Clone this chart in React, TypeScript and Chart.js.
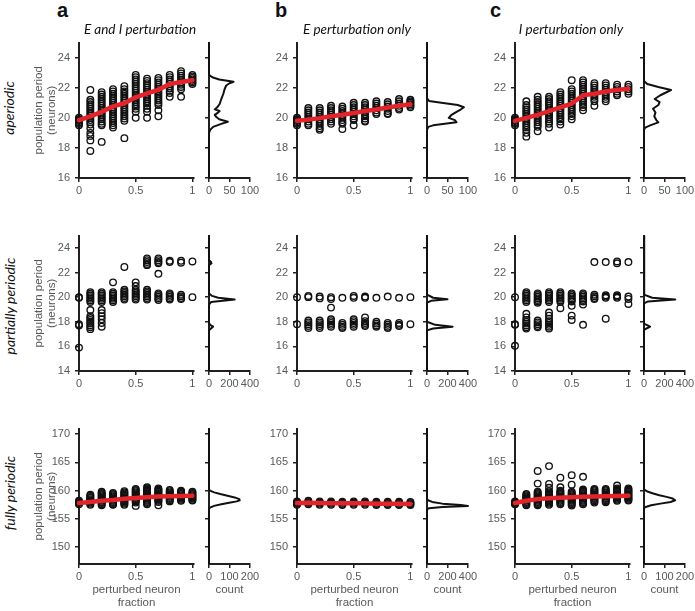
import React, { useEffect, useRef } from 'react';
import { Chart, registerables } from 'chart.js';
Chart.register(...registerables);

// ---------- data ----------
const FRACTIONS = [0, 0.1, 0.2, 0.3, 0.4, 0.5, 0.6, 0.7, 0.8, 0.9, 1];
const FRACTION_TICKS = [0, 0.5, 1];
const ROW1_Y_TICKS = [16, 18, 20, 22, 24];
const ROW2_Y_TICKS = [14, 16, 18, 20, 22, 24];
const ROW3_Y_TICKS = [150, 155, 160, 165, 170];
const HIST_TICKS_100 = [0, 50, 100];
const HIST_TICKS_200 = [0, 100, 200];
const HIST_TICKS_400 = [0, 200, 400];

const COLUMN_TITLES = ['E and I perturbation', 'E perturbation only', 'I perturbation only'];
const COLUMN_LETTERS = ['a', 'b', 'c'];
const ROW_LABELS = ['aperiodic', 'partially periodic', 'fully periodic'];

// row 1: aperiodic
const A1_POINTS = [
  [20.0, 19.9, 19.8, 19.7, 19.6, 19.5],
  [21.85, 21.2, 21.05, 20.9, 20.75, 20.6, 20.45, 20.3, 20.15, 20.0, 19.85, 19.7, 19.55, 19.3, 19.0, 18.8, 18.5, 17.8],
  [21.7, 21.55, 21.4, 21.25, 21.1, 20.95, 20.8, 20.65, 20.5, 20.35, 20.2, 20.05, 19.9, 19.75, 19.6, 19.5, 18.4],
  [21.9, 21.75, 21.6, 21.45, 21.3, 21.15, 21.0, 20.85, 20.7, 20.55, 20.4, 20.25, 20.1, 19.95, 19.8, 19.65, 19.5, 19.35],
  [22.1, 21.9, 21.75, 21.6, 21.45, 21.3, 21.15, 21.0, 20.85, 20.7, 20.55, 20.4, 20.25, 20.1, 19.95, 19.8, 18.65],
  [22.85, 22.7, 22.55, 22.4, 22.25, 22.1, 21.95, 21.8, 21.65, 21.5, 21.35, 21.2, 21.05, 20.9, 20.75, 20.6, 20.4, 20.0],
  [22.6, 22.45, 22.3, 22.15, 22.0, 21.85, 21.7, 21.55, 21.4, 21.25, 21.1, 20.95, 20.8, 20.6, 20.4, 20.0],
  [22.65, 22.5, 22.35, 22.2, 22.05, 21.9, 21.75, 21.6, 21.45, 21.3, 21.15, 21.0, 20.85, 20.5, 20.1],
  [22.85, 22.7, 22.55, 22.4, 22.25, 22.1, 21.95, 21.8, 21.65, 21.4],
  [23.1, 22.95, 22.8, 22.65, 22.5, 22.35, 22.2, 22.05, 21.9, 21.4],
  [22.85, 22.75, 22.65, 22.55, 22.45, 22.35, 22.25],
];
const A1_MEAN = [19.85, 20.1, 20.4, 20.76, 20.97, 21.36, 21.62, 21.86, 22.25, 22.38, 22.5];
const A1_HIST_PERIOD = [16, 19.0, 19.2, 19.4, 19.6, 19.74, 19.9, 20.05, 20.2, 20.35, 20.45, 20.56, 20.7, 20.92, 21.25, 21.6, 21.9, 22.15, 22.3, 22.4, 22.55, 22.7, 22.85, 25];
const A1_HIST_COUNT = [0, 0, 3, 10, 30, 46, 25, 18, 14, 22, 26, 14, 20, 26, 30, 35, 38, 42, 50, 60, 25, 8, 0, 0];

const B1_POINTS = [
  [20.0, 19.9, 19.8, 19.7, 19.6, 19.5],
  [20.65, 20.5, 20.35, 20.2, 20.05, 19.9, 19.75, 19.6, 19.5],
  [20.65, 20.5, 20.35, 20.2, 20.05, 19.9, 19.75, 19.6, 19.45, 19.3, 19.2],
  [20.8, 20.65, 20.5, 20.35, 20.2, 20.05, 19.9, 19.75, 19.6],
  [20.75, 20.6, 20.45, 20.3, 20.15, 20.0, 19.85, 19.7, 19.6, 19.25],
  [21.0, 20.85, 20.7, 20.55, 20.4, 20.25, 20.1, 19.95, 19.85, 19.5],
  [21.0, 20.85, 20.7, 20.55, 20.4, 20.25, 20.1, 19.95, 19.8, 19.75],
  [21.1, 20.95, 20.8, 20.65, 20.5, 20.35, 20.25],
  [21.05, 20.9, 20.75, 20.6, 20.45, 20.3, 20.25],
  [21.25, 21.1, 20.95, 20.8, 20.65, 20.55],
  [21.2, 21.1, 21.0, 20.9, 20.8, 20.7],
];
const B1_MEAN = [19.8, 19.88, 19.98, 20.1, 20.2, 20.32, 20.45, 20.55, 20.68, 20.8, 20.9];
const B1_HIST_PERIOD = [16, 19.2, 19.4, 19.5, 19.7, 19.85, 20.0, 20.2, 20.4, 20.55, 20.7, 20.85, 21.0, 21.12, 21.3, 25];
const B1_HIST_COUNT = [0, 0, 3, 15, 72, 68, 53, 60, 72, 82, 90, 75, 35, 5, 0, 0];

const C1_POINTS = [
  [20.0, 19.9, 19.8, 19.7, 19.6, 19.5],
  [21.1, 20.85, 20.7, 20.55, 20.4, 20.25, 20.1, 19.95, 19.8, 19.65, 19.5, 19.35, 19.2, 19.0, 18.75],
  [21.4, 21.2, 21.05, 20.9, 20.75, 20.6, 20.45, 20.3, 20.15, 20.0, 19.85, 19.7, 19.55, 19.4, 19.1],
  [21.4, 21.25, 21.1, 20.95, 20.8, 20.65, 20.5, 20.35, 20.2, 20.05, 19.9, 19.75, 19.6, 19.35],
  [21.7, 21.55, 21.4, 21.25, 21.1, 20.95, 20.8, 20.65, 20.5, 20.35, 20.2, 20.05, 19.9, 19.75, 19.55],
  [22.5, 21.9, 21.75, 21.6, 21.45, 21.3, 21.15, 21.0, 20.85, 20.7, 20.55, 20.4, 20.25, 20.1, 19.9],
  [22.5, 22.35, 22.2, 22.05, 21.9, 21.75, 21.6, 21.45, 21.3, 21.15, 21.0, 20.85, 20.7, 20.5],
  [22.3, 22.15, 22.0, 21.85, 21.7, 21.55, 21.4, 21.25, 21.1, 20.8],
  [22.3, 22.15, 22.0, 21.85, 21.7, 21.55, 21.4, 21.25, 21.1],
  [22.2, 22.05, 21.9, 21.75, 21.6, 21.5],
  [22.2, 22.05, 21.9, 21.75, 21.6],
];
const C1_MEAN = [19.8, 20.0, 20.2, 20.45, 20.7, 20.95, 21.5, 21.6, 21.75, 21.85, 21.93];
const C1_HIST_PERIOD = [16, 19.2, 19.35, 19.5, 19.7, 19.85, 20.1, 20.35, 20.6, 20.85, 21.05, 21.25, 21.5, 21.85, 22.05, 22.25, 22.45, 25];
const C1_HIST_COUNT = [0, 0, 3, 15, 35, 30, 25, 28, 22, 35, 38, 26, 40, 66, 35, 8, 0, 0];

// row 2: partially periodic
const A2_POINTS = [
  [20.0, 19.95, 17.8, 17.7, 15.9],
  [20.4, 20.27, 20.13, 20.0, 19.87, 19.73, 19.6, 18.95, 18.45, 18.3, 18.15, 18.0, 17.85, 17.7, 17.55, 17.4],
  [20.4, 20.27, 20.13, 20.0, 19.87, 19.73, 19.6, 18.95, 18.7, 18.45, 18.2, 17.9, 17.6],
  [21.2, 20.4, 20.27, 20.13, 20.0, 19.87, 19.73, 19.6],
  [22.45, 20.6, 20.47, 20.33, 20.2, 20.07, 19.93, 19.8],
  [21.2, 20.9, 20.6, 20.47, 20.33, 20.2, 20.07, 19.93, 19.8],
  [23.15, 23.0, 22.85, 22.7, 22.6, 20.6, 20.47, 20.33, 20.2, 20.07, 19.93, 19.8],
  [23.15, 23.0, 22.85, 22.75, 21.9, 20.3, 20.17, 20.03, 19.9, 19.77],
  [22.95, 22.85, 20.3, 20.17, 20.03, 19.9, 19.8],
  [22.95, 22.8, 20.2, 20.07, 19.93, 19.85],
  [22.9, 20.0],
];
const A2_HIST_PERIOD = [14, 17.3, 17.5, 17.6, 17.75, 17.9, 19.4, 19.6, 19.8, 19.95, 20.1, 20.25, 20.4, 22.6, 22.75, 22.85, 23.0, 25];
const A2_HIST_COUNT = [0, 0, 25, 40, 10, 0, 0, 20, 250, 90, 30, 8, 0, 0, 25, 20, 0, 0];

const B2_POINTS = [
  [20.0, 17.8],
  [20.1, 20.0, 18.1, 17.95, 17.8, 17.65, 17.5],
  [20.05, 19.9, 18.1, 17.95, 17.8, 17.65, 17.5],
  [20.0, 19.85, 19.15, 18.2, 18.05, 17.9, 17.75, 17.6],
  [19.95, 17.9, 17.75, 17.6, 17.5],
  [20.1, 19.95, 18.2, 18.05, 17.9, 17.75, 17.6],
  [20.05, 19.95, 18.35, 18.05, 17.9, 17.75, 17.65],
  [19.95, 18.0, 17.85, 17.7, 17.6],
  [20.05, 17.9, 17.75, 17.6, 17.5],
  [19.95, 17.9, 17.75, 17.65],
  [20.0, 17.8],
];
const B2_HIST_PERIOD = [14, 17.3, 17.45, 17.6, 17.75, 18.0, 19.55, 19.7, 19.82, 19.95, 20.2, 25];
const B2_HIST_COUNT = [0, 0, 60, 250, 80, 0, 0, 40, 200, 60, 0, 0];

const C2_POINTS = [
  [20.0, 17.8, 17.75, 16.05],
  [20.4, 20.27, 20.13, 20.0, 19.87, 19.73, 19.6, 18.65, 18.35, 18.15, 18.0, 17.85, 17.7, 17.55, 17.45],
  [20.3, 20.17, 20.03, 19.9, 19.77, 19.65, 19.55, 18.1, 17.95, 17.8, 17.65, 17.55],
  [20.4, 20.27, 20.13, 20.0, 19.87, 19.73, 19.6, 18.75, 18.5, 18.25, 18.05, 17.9, 17.75, 17.6, 17.45],
  [20.4, 20.27, 20.13, 20.0, 19.87, 19.73, 19.6, 19.1],
  [20.3, 20.17, 20.03, 19.9, 19.77, 19.65, 19.3, 18.5, 18.15],
  [20.3, 20.17, 20.03, 19.9, 19.77, 19.65, 19.4, 17.75],
  [22.85, 20.2, 20.07, 19.93, 19.85],
  [22.85, 20.15, 20.05, 19.95, 18.25],
  [22.9, 22.75, 20.15, 20.05, 19.95],
  [22.85, 20.05, 19.85, 19.45],
];
const C2_HIST_PERIOD = [14, 17.35, 17.6, 17.85, 19.5, 19.65, 19.8, 19.95, 20.2, 22.6, 22.8, 23.0, 25];
const C2_HIST_COUNT = [0, 0, 60, 0, 0, 40, 305, 80, 0, 0, 8, 0, 0];

// row 3: fully periodic
const A3_POINTS = [
  [158.2, 158.0, 157.8, 157.6],
  [159.3, 159.1, 158.9, 158.7, 158.5, 158.3, 158.1, 157.9, 157.7, 157.5],
  [159.8, 159.6, 159.4, 159.2, 159.0, 158.8, 158.6, 158.4, 158.2, 158.0, 157.8, 157.6, 157.4],
  [159.6, 159.4, 159.2, 159.0, 158.8, 158.6, 158.4, 158.2, 158.0, 157.8, 157.6, 157.5],
  [159.9, 159.7, 159.5, 159.3, 159.1, 158.9, 158.7, 158.5, 158.3, 158.1, 157.9, 157.7, 157.5],
  [160.3, 160.1, 159.9, 159.7, 159.5, 159.3, 159.1, 158.9, 158.7, 158.5, 158.3, 158.1, 157.9, 157.3],
  [160.6, 160.4, 160.2, 160.0, 159.8, 159.6, 159.4, 159.2, 159.0, 158.8, 158.6, 158.4, 158.2, 158.0, 157.8, 157.6],
  [160.4, 160.2, 160.0, 159.8, 159.6, 159.4, 159.2, 159.0, 158.8, 158.6, 158.4, 158.2, 158.0, 157.4],
  [160.1, 159.9, 159.7, 159.5, 159.3, 159.1, 158.9, 158.7, 158.5, 158.3, 158.1],
  [160.0, 159.8, 159.6, 159.4, 159.2, 159.0, 158.8, 158.6, 158.4, 158.2],
  [159.8, 159.6, 159.4, 159.2, 159.0, 158.8, 158.6, 158.4, 158.25],
];
const A3_MEAN = [157.8, 158.0, 158.2, 158.35, 158.55, 158.7, 158.85, 158.95, 159.0, 159.05, 159.1];
const A3_HIST_PERIOD = [147, 156.8, 157.0, 157.3, 157.6, 157.9, 158.1, 158.3, 158.5, 158.8, 159.1, 159.4, 159.7, 160.0, 160.2, 171];
const A3_HIST_COUNT = [0, 0, 5, 25, 60, 105, 135, 150, 148, 125, 90, 55, 25, 5, 0, 0];

const B3_POINTS = [
  [158.1, 157.9, 157.7, 157.5],
  [158.2, 158.0, 157.8, 157.6],
  [158.1, 157.9, 157.7, 157.5],
  [158.1, 157.9, 157.7, 157.5],
  [158.05, 157.85, 157.65, 157.45],
  [158.1, 157.9, 157.7, 157.5],
  [158.1, 157.9, 157.7, 157.5],
  [158.05, 157.85, 157.65, 157.45],
  [158.05, 157.85, 157.65, 157.45],
  [158.05, 157.85, 157.65, 157.45],
  [158.0, 157.8, 157.6, 157.45],
];
const B3_MEAN = [157.8, 157.85, 157.8, 157.75, 157.75, 157.75, 157.75, 157.7, 157.7, 157.7, 157.65];
const B3_HIST_PERIOD = [147, 156.7, 156.9, 157.1, 157.3, 157.45, 157.7, 158.0, 158.3, 158.5, 171];
const B3_HIST_COUNT = [0, 0, 20, 150, 400, 330, 150, 50, 10, 0, 0];

const C3_POINTS = [
  [158.1, 157.9, 157.7, 157.6],
  [159.4, 159.2, 159.0, 158.8, 158.6, 158.4, 158.2, 158.0, 157.8, 157.6, 157.4],
  [163.5, 161.25, 159.8, 159.6, 159.4, 159.2, 159.0, 158.8, 158.6, 158.4, 158.2, 158.0, 157.8, 157.6, 157.4],
  [164.35, 161.2, 160.5, 159.9, 159.7, 159.5, 159.3, 159.1, 158.9, 158.7, 158.5, 158.3, 158.1, 157.9, 157.7, 157.5],
  [162.3, 160.6, 160.0, 159.8, 159.6, 159.4, 159.2, 159.0, 158.8, 158.6, 158.4, 158.2, 158.0, 157.8, 157.6],
  [162.75, 161.05, 159.8, 159.6, 159.4, 159.2, 159.0, 158.8, 158.6, 158.4, 158.2, 158.0, 157.8, 157.6, 157.35],
  [162.45, 160.2, 160.0, 159.8, 159.6, 159.4, 159.2, 159.0, 158.8, 158.6, 158.4, 158.2, 158.0, 157.8, 157.6],
  [160.3, 160.1, 159.9, 159.7, 159.5, 159.3, 159.1, 158.9, 158.7, 158.5, 158.3, 158.1, 157.9],
  [160.3, 160.1, 159.9, 159.7, 159.5, 159.3, 159.1, 158.9, 158.7, 158.5, 158.3, 158.1, 157.95],
  [160.9, 160.4, 160.2, 160.0, 159.8, 159.6, 159.4, 159.2, 159.0, 158.8, 158.6, 158.4, 158.2],
  [160.4, 160.2, 160.0, 159.8, 159.6, 159.4, 159.2, 159.0, 158.8, 158.6, 158.4, 158.25],
];
const C3_MEAN = [157.8, 158.2, 158.5, 158.65, 158.75, 158.85, 158.92, 158.98, 159.02, 159.06, 159.1];
const C3_HIST_PERIOD = [147, 156.9, 157.1, 157.4, 157.7, 158.0, 158.3, 158.6, 158.9, 159.2, 159.5, 159.8, 160.1, 160.3, 171];
const C3_HIST_COUNT = [0, 0, 8, 35, 80, 130, 152, 140, 110, 75, 45, 20, 5, 0, 0];

// ---------- style / layout ----------
const FONT = "'Liberation Sans', Arial, Helvetica, sans-serif";
const ITALIC_FONT = "Lato, 'Open Sans', sans-serif";
const AXIS = '#231f20';
const TICK = '#58595b';
const RED = '#e3242b';

const SCATTER_LEFT = [79, 297, 515];
const HIST_LEFT = [209, 426.7, 644];
const SCATTER_W = 115;
const HIST_W = 41;
const ROW_TOP = [39, 232, 425];
const ROW_H = 139;
const ROW_Y_RANGE: [number, number][] = [[16, 25], [14, 25], [147, 171]];

function scaleCfg(o: {
  pos: 'x' | 'y'; min: number; max: number; ticks: number[]; labels: boolean; size: number;
  title?: string | string[]; titlePad?: { top: number; bottom: number };
}) {
  return {
    type: 'linear',
    position: o.pos === 'x' ? 'bottom' : 'left',
    min: o.min,
    max: o.max,
    afterBuildTicks: (s: any) => { s.ticks = o.ticks.map((v) => ({ value: v })); },
    afterFit: (s: any) => { if (o.pos === 'x') s.height = o.size; else s.width = o.size; },
    grid: { display: true, drawOnChartArea: false, drawTicks: true, tickLength: 4, color: AXIS, lineWidth: 1.5 },
    border: { display: true, color: AXIS, width: 2 },
    ticks: {
      display: true, autoSkip: false, maxRotation: 0, minRotation: 0, color: TICK,
      font: { family: FONT, size: 11 }, padding: o.pos === 'x' ? 2 : 5,
      callback: (v: any) => (o.labels ? String(v) : ''),
    },
    title: o.title
      ? { display: true, text: o.title, color: TICK, font: { family: FONT, size: 11.5, lineHeight: 1.15 }, padding: o.titlePad }
      : { display: false },
  };
}

function baseOptions(padTop: number, padRight: number, x: any, y: any) {
  return {
    responsive: false,
    animation: false,
    events: [],
    layout: { padding: { left: 0, top: padTop, right: padRight, bottom: 0 } },
    plugins: { legend: { display: false }, tooltip: { enabled: false }, title: { display: false } },
    scales: { x, y },
  };
}

type PanelSpec = {
  key: string; left: number; top: number; w: number; h: number;
  yAxisW: number; xAxisH: number; padTop: number; padRight: number; config: any;
};

function scatterSpec(col: number, row: number, points: number[][], mean: number[] | null): PanelSpec {
  const pts: { x: number; y: number }[] = [];
  points.forEach((c, i) => c.forEach((y) => pts.push({ x: FRACTIONS[i], y })));
  const datasets: any[] = [];
  if (mean) {
    datasets.push({
      type: 'line', data: FRACTIONS.map((x, i) => ({ x, y: mean[i] })), borderColor: RED, borderWidth: 4.5,
      pointRadius: 0, tension: 0, clip: false, fill: false, borderCapStyle: 'round', borderJoinStyle: 'round',
    });
  }
  datasets.push({
    type: 'scatter', data: pts, pointRadius: 3.3, borderWidth: 1.35, borderColor: '#111',
    backgroundColor: 'rgba(0,0,0,0)', showLine: false, clip: false,
  });
  const yAxisW = col === 0 ? 50 : 30;
  const xAxisH = row === 2 ? 47 : 22;
  const yTicks = [ROW1_Y_TICKS, ROW2_Y_TICKS, ROW3_Y_TICKS][row];
  const [ymin, ymax] = ROW_Y_RANGE[row];
  const x = scaleCfg({
    pos: 'x', min: 0, max: 1.014, ticks: FRACTION_TICKS, labels: true, size: xAxisH,
    title: row === 2 ? ['perturbed neuron', 'fraction'] : undefined, titlePad: { top: 0, bottom: 1.4 },
  });
  const y = scaleCfg({
    pos: 'y', min: ymin, max: ymax, ticks: yTicks, labels: true, size: yAxisW,
    title: col === 0 ? ['population period', '(neurons)'] : undefined, titlePad: { top: 3.4, bottom: 0 },
  });
  return {
    key: `s${row}${col}`, left: SCATTER_LEFT[col], top: ROW_TOP[row], w: SCATTER_W, h: ROW_H,
    yAxisW, xAxisH, padTop: 8, padRight: 8,
    config: { type: 'scatter', data: { datasets }, options: baseOptions(8, 8, x, y) },
  };
}

function histSpec(col: number, row: number, period: number[], count: number[], xTicks: number[]): PanelSpec {
  const datasets = [{
    type: 'scatter', data: period.map((p, i) => ({ x: count[i], y: p })), showLine: true,
    borderColor: '#111', borderWidth: 2, pointRadius: 0, tension: 0, clip: false, fill: false,
    borderJoinStyle: 'round',
  }];
  const yAxisW = 6;
  const xAxisH = row === 2 ? 47 : 22;
  const [ymin, ymax] = ROW_Y_RANGE[row];
  const yTicks = [ROW1_Y_TICKS, ROW2_Y_TICKS, ROW3_Y_TICKS][row];
  const x = scaleCfg({
    pos: 'x', min: 0, max: xTicks[xTicks.length - 1], ticks: xTicks, labels: true, size: xAxisH,
    title: row === 2 ? 'count' : undefined, titlePad: { top: 0, bottom: 14.4 },
  });
  const y = scaleCfg({ pos: 'y', min: ymin, max: ymax, ticks: yTicks, labels: false, size: yAxisW });
  return {
    key: `h${row}${col}`, left: HIST_LEFT[col], top: ROW_TOP[row], w: HIST_W, h: ROW_H,
    yAxisW, xAxisH, padTop: 8, padRight: 14,
    config: { type: 'scatter', data: { datasets }, options: baseOptions(8, 14, x, y) },
  };
}

const PANELS: PanelSpec[] = [
  scatterSpec(0, 0, A1_POINTS, A1_MEAN),
  scatterSpec(1, 0, B1_POINTS, B1_MEAN),
  scatterSpec(2, 0, C1_POINTS, C1_MEAN),
  scatterSpec(0, 1, A2_POINTS, null),
  scatterSpec(1, 1, B2_POINTS, null),
  scatterSpec(2, 1, C2_POINTS, null),
  scatterSpec(0, 2, A3_POINTS, A3_MEAN),
  scatterSpec(1, 2, B3_POINTS, B3_MEAN),
  scatterSpec(2, 2, C3_POINTS, C3_MEAN),
  histSpec(0, 0, A1_HIST_PERIOD, A1_HIST_COUNT, HIST_TICKS_100),
  histSpec(1, 0, B1_HIST_PERIOD, B1_HIST_COUNT, HIST_TICKS_100),
  histSpec(2, 0, C1_HIST_PERIOD, C1_HIST_COUNT, HIST_TICKS_100),
  histSpec(0, 1, A2_HIST_PERIOD, A2_HIST_COUNT, HIST_TICKS_400),
  histSpec(1, 1, B2_HIST_PERIOD, B2_HIST_COUNT, HIST_TICKS_400),
  histSpec(2, 1, C2_HIST_PERIOD, C2_HIST_COUNT, HIST_TICKS_400),
  histSpec(0, 2, A3_HIST_PERIOD, A3_HIST_COUNT, HIST_TICKS_200),
  histSpec(1, 2, B3_HIST_PERIOD, B3_HIST_COUNT, HIST_TICKS_400),
  histSpec(2, 2, C3_HIST_PERIOD, C3_HIST_COUNT, HIST_TICKS_200),
];

function ChartPanel({ spec }: { spec: PanelSpec }) {
  const ref = useRef<HTMLCanvasElement | null>(null);
  useEffect(() => {
    const chart = new Chart(ref.current as HTMLCanvasElement, spec.config);
    return () => chart.destroy();
  }, [spec]);
  const cw = spec.yAxisW + spec.w + spec.padRight;
  const ch = spec.padTop + spec.h + spec.xAxisH;
  return (
    <canvas
      ref={ref}
      width={cw}
      height={ch}
      style={{ position: 'absolute', left: spec.left - spec.yAxisW, top: spec.top - spec.padTop, width: cw, height: ch }}
    />
  );
}

const LETTER_LEFT = [57, 275, 490];
const TITLE_CENTER = [140, 357, 571];
const ROW_LABEL_CENTER: [number, number][] = [[9, 108], [10, 306], [10, 493]];

export default function App() {
  return (
    <div style={{ position: 'absolute', left: 0, top: 0, width: 695, height: 611, background: '#fff', overflow: 'hidden' }}>
      {PANELS.map((p) => <ChartPanel key={p.key} spec={p} />)}
      {COLUMN_LETTERS.map((l, i) => (
        <div key={l} style={{ position: 'absolute', left: LETTER_LEFT[i], top: 0, fontFamily: FONT, fontWeight: 'bold', fontSize: 20, lineHeight: '20px', color: '#111' }}>{l}</div>
      ))}
      {COLUMN_TITLES.map((t, i) => (
        <div key={t} style={{ position: 'absolute', left: TITLE_CENTER[i], top: 21, transform: 'translateX(-50%)', whiteSpace: 'nowrap', fontFamily: ITALIC_FONT, fontStyle: 'italic', fontSize: 13.5, lineHeight: '16px', color: '#111' }}>{t}</div>
      ))}
      {ROW_LABELS.map((t, i) => (
        <div key={t} style={{ position: 'absolute', left: ROW_LABEL_CENTER[i][0], top: ROW_LABEL_CENTER[i][1], transform: 'translate(-50%, -50%) rotate(-90deg)', whiteSpace: 'nowrap', fontFamily: ITALIC_FONT, fontStyle: 'italic', fontSize: 14, lineHeight: '16px', color: '#111' }}>{t}</div>
      ))}
    </div>
  );
}
